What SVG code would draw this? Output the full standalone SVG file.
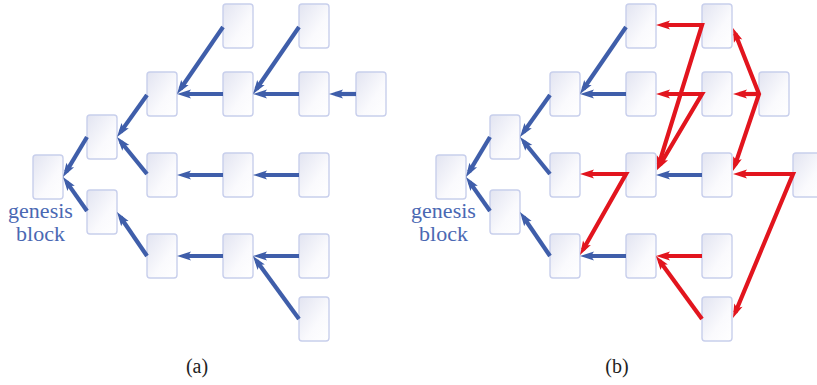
<svg xmlns="http://www.w3.org/2000/svg" width="817" height="385" viewBox="0 0 817 385">
  <defs>
    <linearGradient id="blockFill" x1="0" y1="0" x2="1" y2="1">
      <stop offset="0" stop-color="#e2e4f1"/>
      <stop offset="0.6" stop-color="#fafafd"/>
      <stop offset="1" stop-color="#ffffff"/>
    </linearGradient>
    <marker id="headBlue" markerUnits="userSpaceOnUse" orient="auto" refX="8" refY="0" markerWidth="20" markerHeight="20" viewBox="-2 -10 20 20" overflow="visible">
      <path d="M0,-4.5 L14,0 L0,4.5 L3,0 Z" fill="#3f5eaa"/>
    </marker>
    <marker id="headRed" markerUnits="userSpaceOnUse" orient="auto" refX="8" refY="0" markerWidth="20" markerHeight="20" viewBox="-2 -10 20 20" overflow="visible">
      <path d="M0,-4.5 L14,0 L0,4.5 L3,0 Z" fill="#e2151e"/>
    </marker>
    <marker id="headRedStart" markerUnits="userSpaceOnUse" orient="auto" refX="-8" refY="0" markerWidth="20" markerHeight="20" viewBox="-18 -10 20 20" overflow="visible">
      <path d="M0,-4.5 L-14,0 L0,4.5 L-3,0 Z" fill="#e2151e"/>
    </marker>
  </defs>
  <style>
    .blk { fill: url(#blockFill); stroke: #c8cfec; stroke-width: 1.4; }
    .blue { fill: none; stroke: #3f5eaa; stroke-width: 4.2; marker-end: url(#headBlue); }
    .red { fill: none; stroke: #e2151e; stroke-width: 4.2; stroke-linejoin: miter; marker-end: url(#headRed); }
    .red2 { marker-start: url(#headRedStart); }
    .lbl { font-family: "Liberation Serif", "DejaVu Serif", serif; font-size: 22px; fill: #4a68b3; text-anchor: middle; }
    .cap { font-family: "Liberation Serif", "DejaVu Serif", serif; font-size: 20px; fill: #222222; text-anchor: middle; }
  </style>

  <!-- (a) single-parent chain tree -->
  <g id="tree-a">
    <g id="a-genesis"><rect class="blk" x="33" y="155" width="30" height="44" rx="3"/></g>
    <g id="a-c"><rect class="blk" x="87" y="115" width="30" height="44" rx="3"/></g>
    <g id="a-e"><rect class="blk" x="87" y="190" width="30" height="44" rx="3"/></g>
    <g id="a-a1"><rect class="blk" x="223" y="4" width="30" height="44" rx="3"/></g>
    <g id="a-a2"><rect class="blk" x="299" y="4" width="30" height="44" rx="3"/></g>
    <g id="a-b1"><rect class="blk" x="147" y="72" width="30" height="44" rx="3"/></g>
    <g id="a-b2"><rect class="blk" x="223" y="72" width="30" height="44" rx="3"/></g>
    <g id="a-b3"><rect class="blk" x="299" y="72" width="30" height="44" rx="3"/></g>
    <g id="a-b4"><rect class="blk" x="356" y="72" width="30" height="44" rx="3"/></g>
    <g id="a-d1"><rect class="blk" x="147" y="153" width="30" height="44" rx="3"/></g>
    <g id="a-d2"><rect class="blk" x="223" y="153" width="30" height="44" rx="3"/></g>
    <g id="a-d3"><rect class="blk" x="299" y="153" width="30" height="44" rx="3"/></g>
    <g id="a-f1"><rect class="blk" x="147" y="234" width="30" height="44" rx="3"/></g>
    <g id="a-f2"><rect class="blk" x="223" y="234" width="30" height="44" rx="3"/></g>
    <g id="a-f3"><rect class="blk" x="299" y="234" width="30" height="44" rx="3"/></g>
    <g id="a-h"><rect class="blk" x="299" y="297" width="30" height="44" rx="3"/></g>
    <g id="a-label">
      <text class="lbl" x="40.5" y="218">genesis</text>
      <text class="lbl" x="40.5" y="241">block</text>
    </g>
    <g id="a-links">
      <path class="blue" d="M223,27 L180.4,89.05"/>
      <path class="blue" d="M299,27 L256.4,89.05"/>
      <path class="blue" d="M223,94 L183,94"/>
      <path class="blue" d="M299,94 L259,94"/>
      <path class="blue" d="M356,94 L335,94"/>
      <path class="blue" d="M147,95 L120.5,132.1"/>
      <path class="blue" d="M147,174 L120.8,141.7"/>
      <path class="blue" d="M87,137 L66.1,171.9"/>
      <path class="blue" d="M87,211 L66.5,181.9"/>
      <path class="blue" d="M223,175 L183,175"/>
      <path class="blue" d="M299,175 L259,175"/>
      <path class="blue" d="M147,256 L120.4,217"/>
      <path class="blue" d="M223,256 L183,256"/>
      <path class="blue" d="M299,256 L259,256"/>
      <path class="blue" d="M299,319 L256.5,260.8"/>
    </g>
    <text class="cap" x="197" y="373">(a)</text>
  </g>

  <!-- (b) multi-parent graph -->
  <g id="tree-b">
    <g id="b-genesis"><rect class="blk" x="436" y="155" width="30" height="44" rx="3"/></g>
    <g id="b-c"><rect class="blk" x="490" y="115" width="30" height="44" rx="3"/></g>
    <g id="b-e"><rect class="blk" x="490" y="190" width="30" height="44" rx="3"/></g>
    <g id="b-a1"><rect class="blk" x="626" y="4" width="30" height="44" rx="3"/></g>
    <g id="b-a2"><rect class="blk" x="702" y="4" width="30" height="44" rx="3"/></g>
    <g id="b-b1"><rect class="blk" x="550" y="72" width="30" height="44" rx="3"/></g>
    <g id="b-b2"><rect class="blk" x="626" y="72" width="30" height="44" rx="3"/></g>
    <g id="b-b3"><rect class="blk" x="702" y="72" width="30" height="44" rx="3"/></g>
    <g id="b-b4"><rect class="blk" x="759" y="72" width="30" height="44" rx="3"/></g>
    <g id="b-d1"><rect class="blk" x="550" y="153" width="30" height="44" rx="3"/></g>
    <g id="b-d2"><rect class="blk" x="626" y="153" width="30" height="44" rx="3"/></g>
    <g id="b-d3"><rect class="blk" x="702" y="153" width="30" height="44" rx="3"/></g>
    <g id="b-d4"><rect class="blk" x="793" y="153" width="30" height="44" rx="3"/></g>
    <g id="b-f1"><rect class="blk" x="550" y="234" width="30" height="44" rx="3"/></g>
    <g id="b-f2"><rect class="blk" x="626" y="234" width="30" height="44" rx="3"/></g>
    <g id="b-f3"><rect class="blk" x="702" y="234" width="30" height="44" rx="3"/></g>
    <g id="b-h"><rect class="blk" x="702" y="297" width="30" height="44" rx="3"/></g>
    <g id="b-label">
      <text class="lbl" x="443.5" y="218">genesis</text>
      <text class="lbl" x="443.5" y="241">block</text>
    </g>
    <g id="b-links">
      <path class="blue" d="M626,27 L583.4,89.05"/>
      <path class="blue" d="M626,94 L586,94"/>
      <path class="blue" d="M550,95 L523.5,132.1"/>
      <path class="blue" d="M550,174 L523.8,141.7"/>
      <path class="blue" d="M490,137 L469.1,171.9"/>
      <path class="blue" d="M490,211 L469.5,181.9"/>
      <path class="blue" d="M550,256 L523.4,217"/>
      <path class="blue" d="M702,175 L662,175"/>
      <path class="blue" d="M626,256 L586,256"/>

      <path class="red red2" d="M662,25 L702,25 L658.8,164.3"/>
      <path class="red red2" d="M662,94 L702,94 L660.1,164.8"/>
      <path class="red red2" d="M735.2,33.6 L759,94 L734.9,165.3"/>
      <path class="red" d="M759,94 L739,94"/>
      <path class="red red2" d="M586,174 L626,174 L583,249.8"/>
      <path class="red red2" d="M739,174 L793,174 L735.3,312.5"/>
      <path class="red" d="M702,256 L662,256"/>
      <path class="red" d="M702,319 L659.5,260.8"/>
    </g>
    <text class="cap" x="617" y="373">(b)</text>
  </g>
</svg>
